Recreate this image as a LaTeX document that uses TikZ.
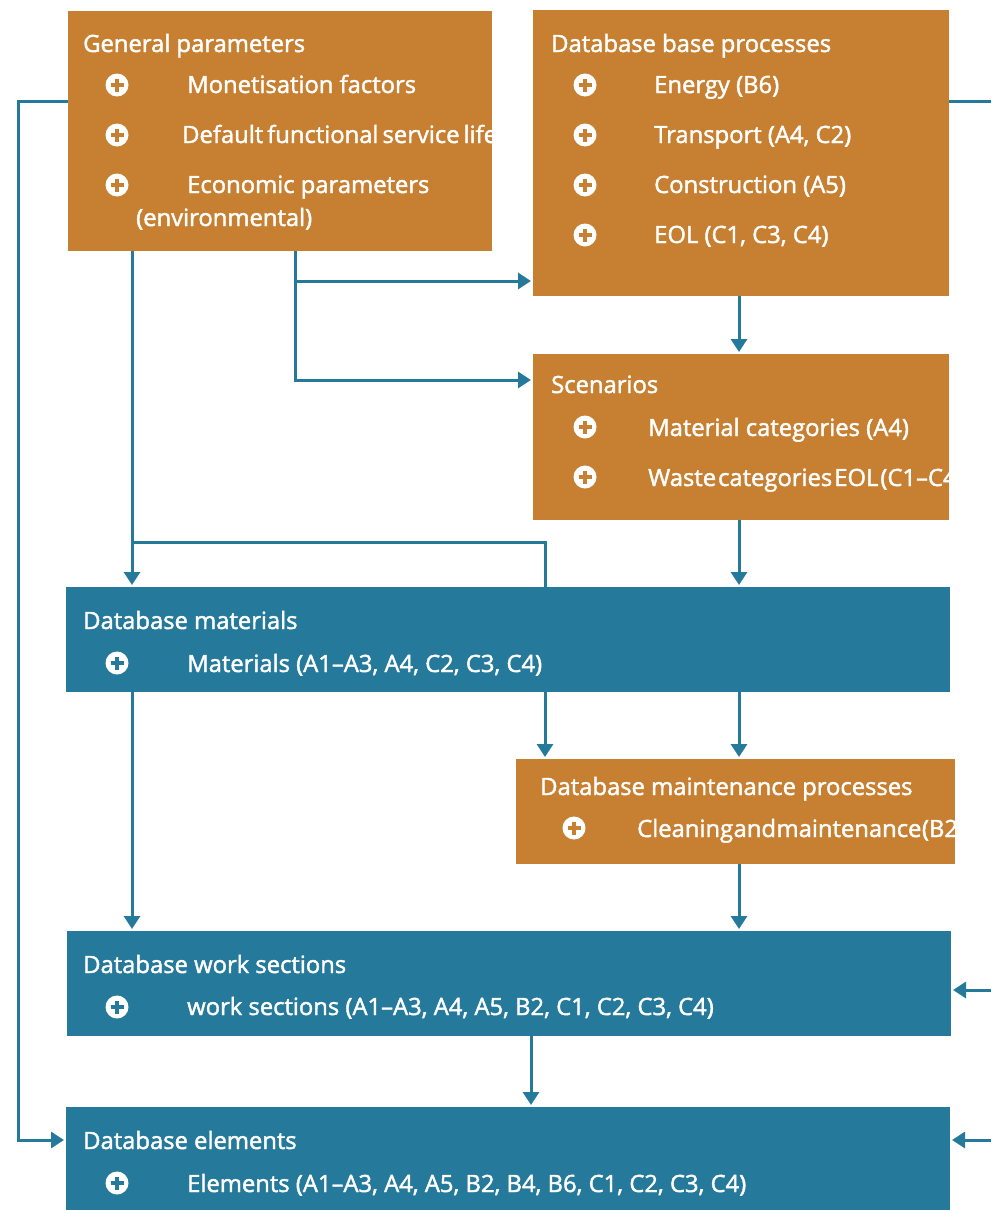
\documentclass[tikz,border=0pt]{standalone}
\usepackage{fontspec}
\setmainfont{Open Sans}[BoldFont=Open Sans, BoldFeatures={FakeBold=1.8}]
\usetikzlibrary{arrows.meta,backgrounds}
\definecolor{org}{RGB}{199,128,50}
\definecolor{blu}{RGB}{37,121,155}
\newcommand{\tightsp}{\spaceskip=2pt\relax}
\newcommand{\midsp}{\spaceskip=4pt\relax}
\newcommand{\notsp}{\spaceskip=0.5pt\relax}
\tikzset{
  box/.style={anchor=north west, inner sep=0pt, outer sep=0pt},
  obox/.style={box, fill=org},
  bbox/.style={box, fill=blu},
  txt/.style={anchor=base west, inner sep=0pt, text=white, font=\fontsize{23.8}{28}\selectfont\bfseries},
  conn/.style={draw=blu, line width=3pt},
  arr/.style={conn, -{Triangle[width=16pt,length=13pt]}, shorten >=2pt},
  bulletdot/.style={circle, fill=white, minimum size=23pt, inner sep=0pt},
}
\newcommand{\plusmark}[3]{%
  \node[bulletdot] (#1) at (#2) {};
  \draw[#3, line width=4.5pt] ([xshift=-6.5pt]#1.center) -- ([xshift=6.5pt]#1.center)
    ([yshift=-6.5pt]#1.center) -- ([yshift=6.5pt]#1.center);
}
\begin{document}
\begin{tikzpicture}[x=1pt,y=-1pt]
\useasboundingbox (0,0) rectangle (991,1210);

% boxes
\node[obox, minimum width=424pt, minimum height=240pt] (gp) at (68,11) {};
\node[obox, minimum width=416pt, minimum height=286pt] (dbp) at (533,10) {};
\node[obox, minimum width=416pt, minimum height=166pt] (sc) at (533,354) {};
\node[bbox, minimum width=884pt, minimum height=105pt] (dm) at (66,587) {};
\node[obox, minimum width=439pt, minimum height=105pt] (mp) at (516,759) {};
\node[bbox, minimum width=884pt, minimum height=105pt] (ws) at (67,931) {};
\node[bbox, minimum width=884pt, minimum height=103pt] (de) at (66,1107) {};

% General parameters
\node[txt] (gpT) at (83,52) {General parameters};
\plusmark{gpB1}{117,85}{org}
\plusmark{gpB2}{117,135}{org}
\plusmark{gpB3}{117,185}{org}
\node[txt] (gpI1) at (187,93) {Monetisation factors};
\begin{scope}
  \clip (gp.north west) rectangle (gp.south east);
  \node[txt] (gpI2) at (182,143) {\midsp Default functional service life};
\end{scope}
\node[txt] (gpI3) at (187,193) {Economic parameters};
\node[txt] (gpI4) at (136,226) {(environmental)};

% Database base processes
\node[txt] (dbpT) at (551,52) {Database base processes};
\plusmark{dbpB1}{585,85}{org}
\plusmark{dbpB2}{585,135}{org}
\plusmark{dbpB3}{585,185}{org}
\plusmark{dbpB4}{585,235}{org}
\node[txt] (dbpI1) at (654,93) {Energy (B6)};
\node[txt] (dbpI2) at (654,143) {Transport (A4, C2)};
\node[txt] (dbpI3) at (654,193) {Construction (A5)};
\node[txt] (dbpI4) at (654,243) {EOL (C1, C3, C4)};

% Scenarios
\node[txt] (scT) at (551,393) {Scenarios};
\plusmark{scB1}{585,427}{org}
\plusmark{scB2}{585,477}{org}
\node[txt] (scI1) at (648,436) {Material categories (A4)};
\begin{scope}
  \clip (sc.north west) rectangle (sc.south east);
  \node[txt] (scI2) at (648,486) {\tightsp Waste categories EOL (C1–C4)};
\end{scope}

% Database materials
\node[txt] (dmT) at (83,629) {Database materials};
\plusmark{dmB1}{117,663}{blu}
\node[txt] (dmI1) at (187,672) {Materials (A1–A3, A4, C2, C3, C4)};

% Database maintenance processes
\node[txt] (mpT) at (540,795) {Database maintenance processes};
\plusmark{mpB1}{574,828}{org}
\begin{scope}
  \clip (mp.north west) rectangle (mp.south east);
  \node[txt] (mpI1) at (637,837) {\notsp Cleaning and maintenance (B2)};
\end{scope}

% Database work sections
\node[txt] (wsT) at (83,973) {Database work sections};
\plusmark{wsB1}{117,1007}{blu}
\node[txt] (wsI1) at (187,1015) {work sections (A1–A3, A4, A5, B2, C1, C2, C3, C4)};

% Database elements
\node[txt] (deT) at (83,1149) {Database elements};
\plusmark{deB1}{117,1183}{blu}
\node[txt] (deI1) at (187,1192) {Elements (A1–A3, A4, A5, B2, B4, B6, C1, C2, C3, C4)};

% helper coordinates
\coordinate (xA) at (132,0);
\coordinate (xB) at (295,0);
\coordinate (xC) at (545,0);
\coordinate (xD) at (739,0);
\coordinate (xE) at (531,0);
\coordinate (xL) at (18,0);
\coordinate (xR) at (991,0);
\coordinate (y1) at (0,101);
\coordinate (y2) at (0,281);
\coordinate (y3) at (0,380);
\coordinate (y4) at (0,542);
\coordinate (y5) at (0,990);
\coordinate (y6) at (0,1140);

\begin{pgfonlayer}{background}
\draw[arr] (gp.west |- y1) -- (xL |- y1) -- (xL |- y6) -- (de.west |- y6);
\draw[arr] (xA |- gp.south) -- (xA |- dm.north);
\draw[arr] (xA |- y4) -- (xC |- y4) -- (xC |- mp.north);
\draw[arr] (xB |- gp.south) -- (xB |- y3) -- (sc.west |- y3);
\draw[arr] (xB |- y2) -- (dbp.west |- y2);
\draw[arr] (xD |- dbp.south) -- (xD |- sc.north);
\draw[arr] (xD |- sc.south) -- (xD |- dm.north);
\draw[arr] (xD |- dm.south) -- (xD |- mp.north);
\draw[arr] (xA |- dm.south) -- (xA |- ws.north);
\draw[arr] (xD |- mp.south) -- (xD |- ws.north);
\draw[arr] (xE |- ws.south) -- (xE |- de.north);
\draw[conn] (dbp.east |- y1) -- (xR |- y1);
\draw[arr] (xR |- y5) -- (ws.east |- y5);
\draw[arr] (xR |- y6) -- (de.east |- y6);
\end{pgfonlayer}
\end{tikzpicture}
\end{document}
